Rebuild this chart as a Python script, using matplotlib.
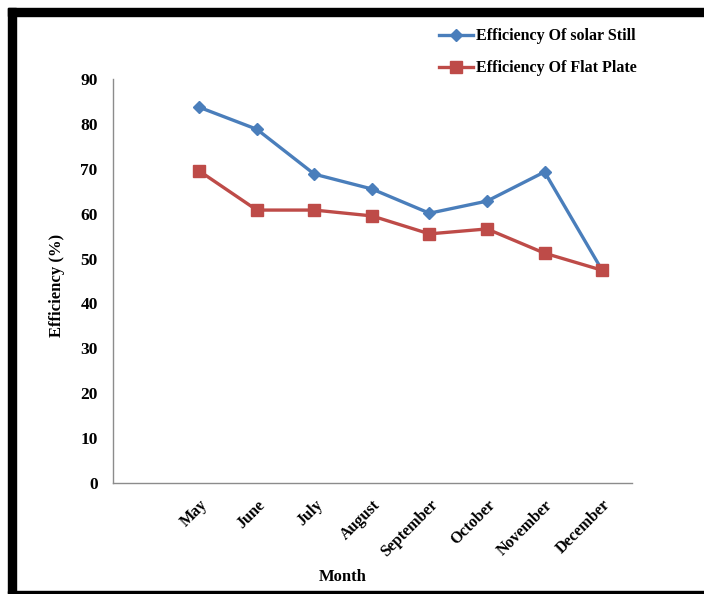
import matplotlib
matplotlib.use("Agg")
import matplotlib.pyplot as plt
from matplotlib.patches import Rectangle

# monthly efficiency data
months = ["May", "June", "July", "August", "September", "October", "November", "December"]
solar_still = [83.7, 78.8, 68.8, 65.5, 60.1, 62.8, 69.3, 47.4]
flat_plate = [69.5, 60.8, 60.8, 59.5, 55.5, 56.6, 51.2, 47.4]
y_ticks = [0, 10, 20, 30, 40, 50, 60, 70, 80, 90]

plt.rcParams['font.family'] = ['Liberation Serif', 'DejaVu Serif']
plt.rcParams['font.weight'] = 'bold'

fig = plt.figure(figsize=(7.04, 5.94), dpi=100)
ax = fig.add_axes([113/704, 1 - 483/594, (632 - 113)/704, (483 - 79)/594])

x = list(range(len(months)))
ax.plot(x, solar_still, color='#4A7EBB', lw=2.4, marker='D', ms=6,
        label='Efficiency Of solar Still')
ax.plot(x, flat_plate, color='#BE4B48', lw=2.4, marker='s', ms=9,
        label='Efficiency Of Flat Plate')

ax.set_xlim(-1.5, 7.52)
ax.set_ylim(0, 90)
ax.set_yticks(y_ticks)
ax.set_yticklabels([str(v) for v in y_ticks], fontsize=12.5, fontweight='bold')
ax.set_xticks(x)
ax.set_xticklabels(months, rotation=45, ha='right', rotation_mode='anchor',
                   fontsize=11.5, fontweight='bold')
ax.tick_params(axis='both', length=0)
ax.tick_params(axis='y', pad=11)
ax.tick_params(axis='x', pad=10)

for side in ['top', 'right']:
    ax.spines[side].set_visible(False)
for side in ['left', 'bottom']:
    ax.spines[side].set_color('#8c8c8c')
    ax.spines[side].set_linewidth(1.0)

fig.text(57/704, 1 - 285/594, 'Efficiency (%)', rotation=90, ha='center', va='center',
         fontsize=12, fontweight='bold')
fig.text(343/704, 1 - 577/594, 'Month', ha='center', va='center',
         fontsize=12, fontweight='bold')

leg = fig.legend(loc='upper left', bbox_to_anchor=(425/704, 1 - 14/594), frameon=False,
                 fontsize=11.5, handlelength=2.1, handletextpad=0.2, labelspacing=1.0)

# black frame around the chart
fig.patches.append(Rectangle((8/704, 0), 8/704, 1 - 8/594, transform=fig.transFigure,
                             color='black', zorder=5))
fig.patches.append(Rectangle((8/704, 1 - 16/594), 1, 8/594, transform=fig.transFigure,
                             color='black', zorder=5))
fig.patches.append(Rectangle((8/704, 1 - 593/594), 1, 2/594, transform=fig.transFigure,
                             color='black', zorder=5))

fig.savefig('out.png', dpi=100)
